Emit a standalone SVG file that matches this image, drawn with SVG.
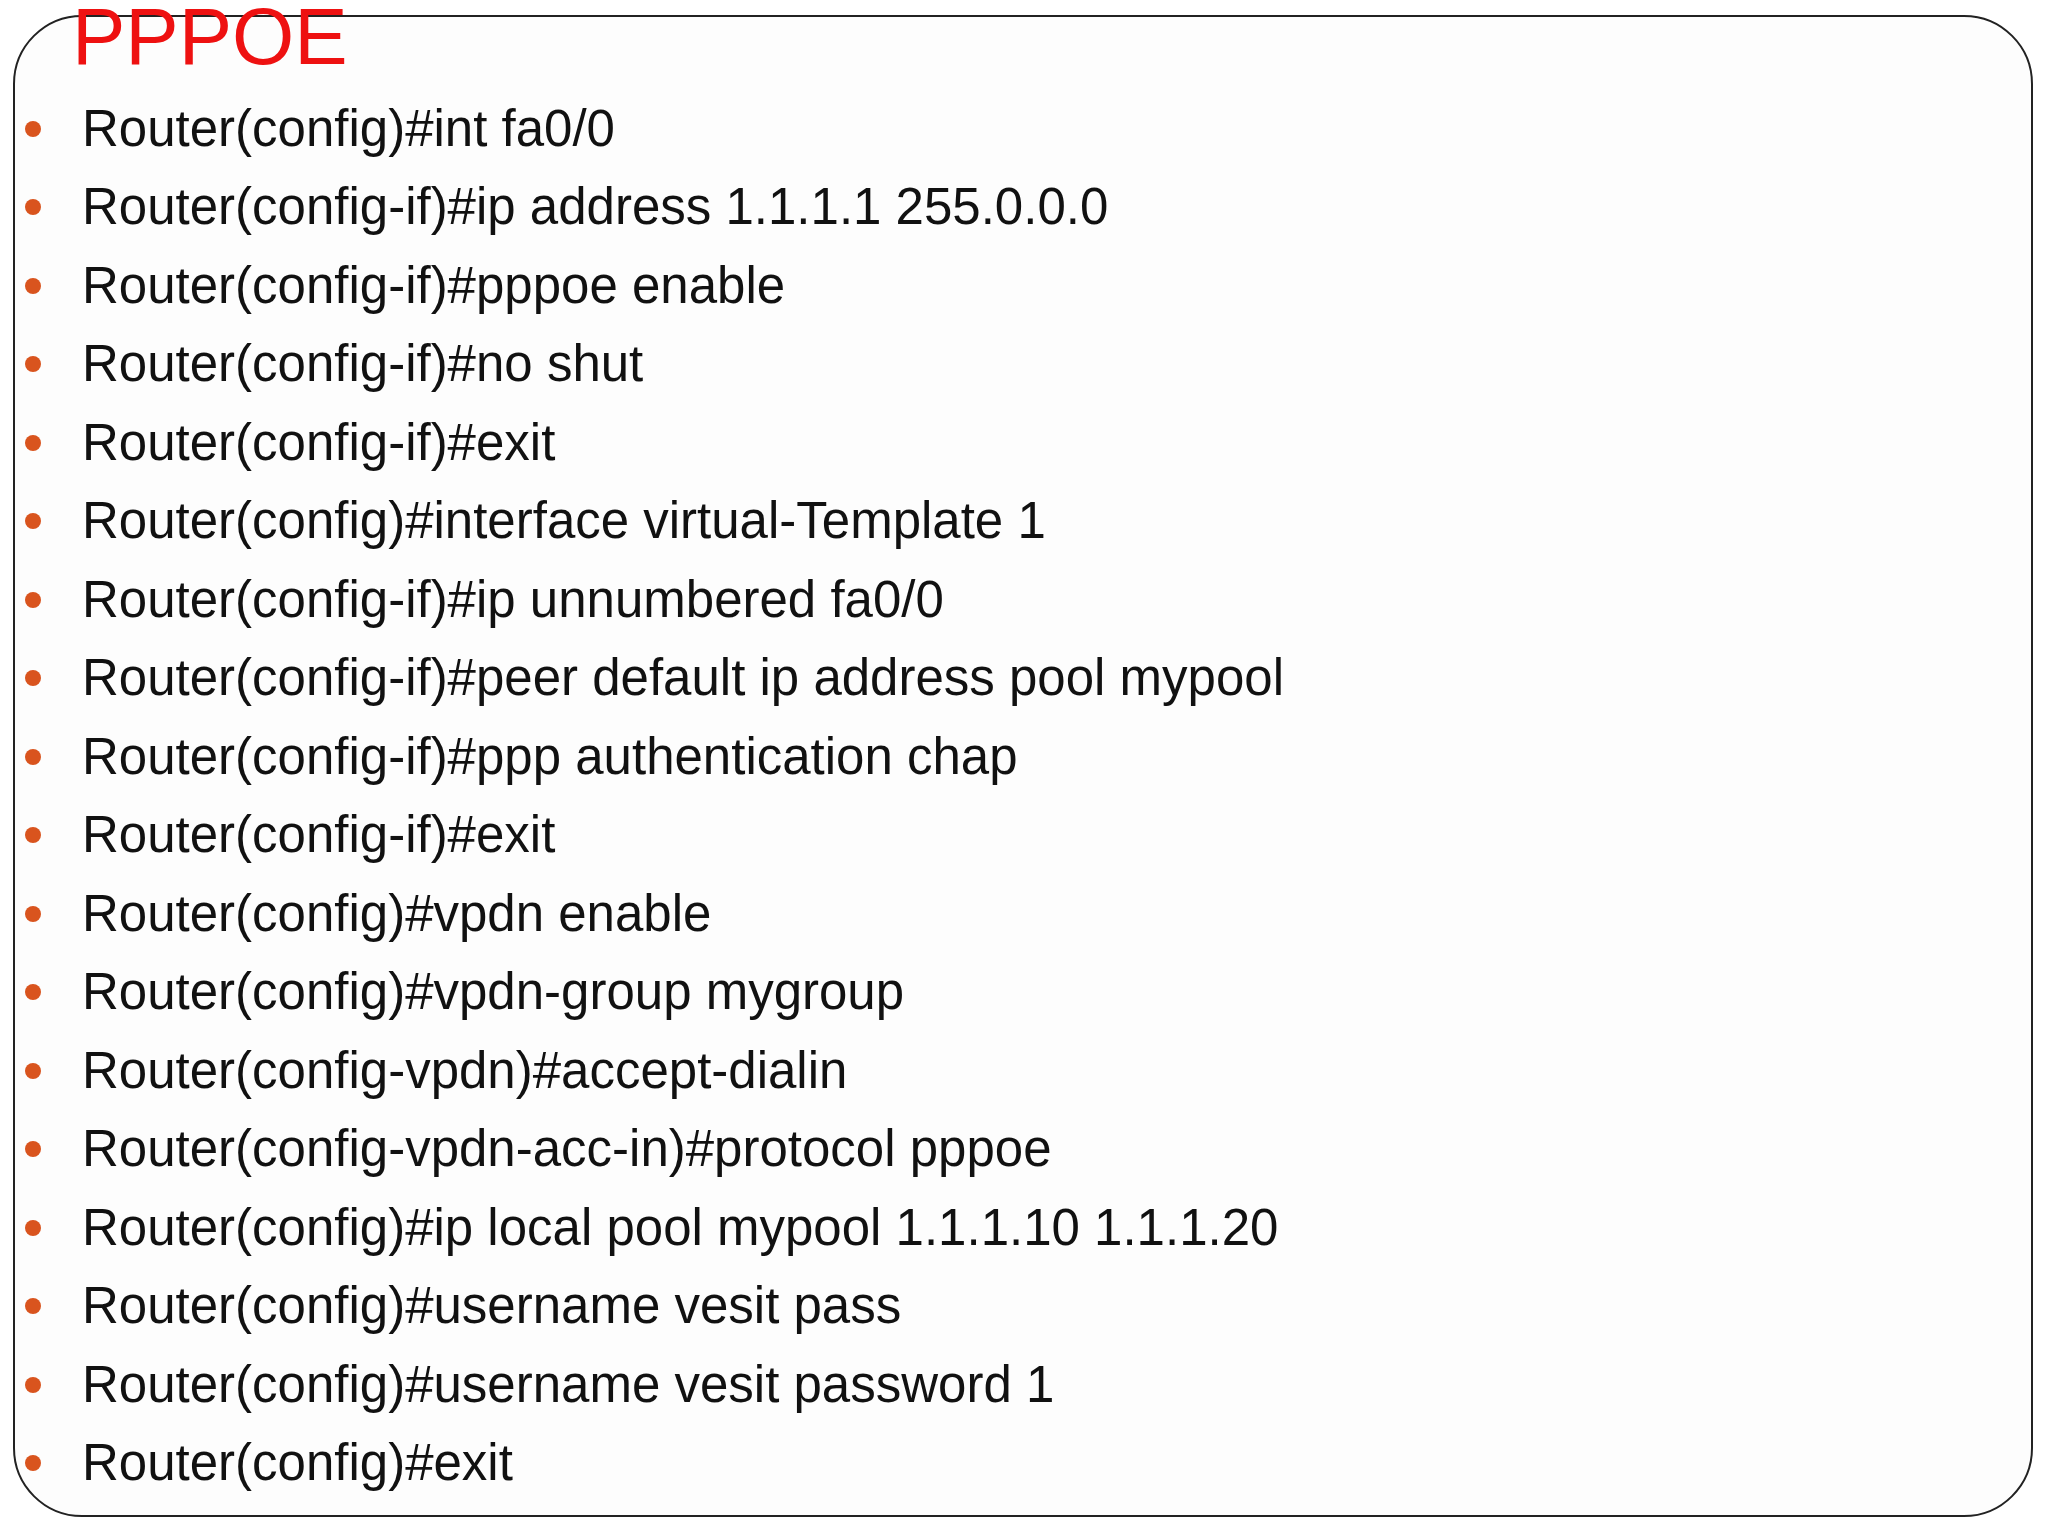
<svg xmlns="http://www.w3.org/2000/svg" width="2048" height="1536" viewBox="0 0 2048 1536">
<style>
.t{font-family:"Liberation Sans",Arial,sans-serif;font-size:51px;fill:#111}
.b{fill:#d9541e}
</style>
<rect width="2048" height="1536" fill="#fff"/>
<rect x="14" y="16" width="2018" height="1500" rx="68" fill="#fdfdfd" stroke="#222" stroke-width="2"/>
<text x="72" y="64" font-family="Liberation Sans,Arial,sans-serif" font-size="80" fill="#ee1111">PPPOE</text>
<g id="list">
<g class="b">
<circle cx="33" cy="129" r="8"/><circle cx="33" cy="207" r="8"/><circle cx="33" cy="286" r="8"/><circle cx="33" cy="364" r="8"/><circle cx="33" cy="443" r="8"/><circle cx="33" cy="521" r="8"/><circle cx="33" cy="600" r="8"/><circle cx="33" cy="678" r="8"/><circle cx="33" cy="757" r="8"/><circle cx="33" cy="835" r="8"/><circle cx="33" cy="914" r="8"/><circle cx="33" cy="992" r="8"/><circle cx="33" cy="1071" r="8"/><circle cx="33" cy="1149" r="8"/><circle cx="33" cy="1228" r="8"/><circle cx="33" cy="1306" r="8"/><circle cx="33" cy="1385" r="8"/><circle cx="33" cy="1463" r="8"/>
</g>
<text class="t" x="82" y="146">Router(config)#int fa0/0</text>
<text class="t" x="82" y="224">Router(config-if)#ip address 1.1.1.1 255.0.0.0</text>
<text class="t" x="82" y="303">Router(config-if)#pppoe enable</text>
<text class="t" x="82" y="381">Router(config-if)#no shut</text>
<text class="t" x="82" y="460">Router(config-if)#exit</text>
<text class="t" x="82" y="538">Router(config)#interface virtual-Template 1</text>
<text class="t" x="82" y="617">Router(config-if)#ip unnumbered fa0/0</text>
<text class="t" x="82" y="695">Router(config-if)#peer default ip address pool mypool</text>
<text class="t" x="82" y="774">Router(config-if)#ppp authentication chap</text>
<text class="t" x="82" y="852">Router(config-if)#exit</text>
<text class="t" x="82" y="931">Router(config)#vpdn enable</text>
<text class="t" x="82" y="1009">Router(config)#vpdn-group mygroup</text>
<text class="t" x="82" y="1088">Router(config-vpdn)#accept-dialin</text>
<text class="t" x="82" y="1166">Router(config-vpdn-acc-in)#protocol pppoe</text>
<text class="t" x="82" y="1245">Router(config)#ip local pool mypool 1.1.1.10 1.1.1.20</text>
<text class="t" x="82" y="1323">Router(config)#username vesit pass</text>
<text class="t" x="82" y="1402">Router(config)#username vesit password 1</text>
<text class="t" x="82" y="1480">Router(config)#exit</text>
</g>
</svg>
